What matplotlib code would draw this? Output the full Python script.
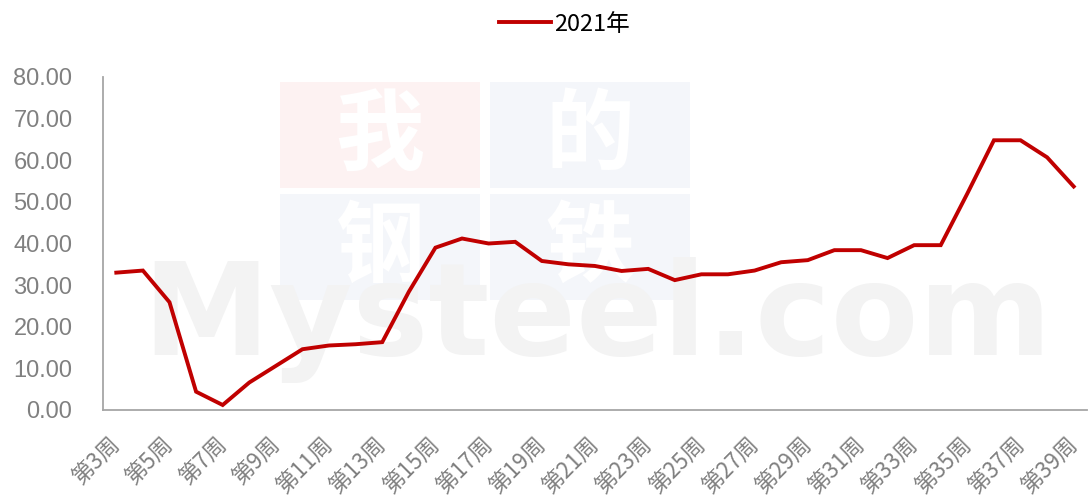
import matplotlib.pyplot as plt
from matplotlib.patches import Rectangle

plt.rcParams['font.family'] = ['Noto Sans CJK SC', 'DejaVu Sans']

# ---- data ----
weeks = list(range(3, 40))
labels = [f"第{w}周" for w in weeks]
values = [33.0, 33.5, 25.9, 4.4, 1.2, 6.6, 10.6, 14.6, 15.5, 15.8,
          16.3, 28.4, 39.0, 41.2, 40.0, 40.4, 35.8, 35.0, 34.6, 33.4,
          33.9, 31.2, 32.6, 32.6, 33.5, 35.5, 36.0, 38.4, 38.4, 36.5,
          39.6, 39.6, 52.0, 64.8, 64.8, 60.7, 53.7]
series_name = "2021年"

W, H = 1088, 503
fig = plt.figure(figsize=(W / 100, H / 100), dpi=100)
ax = fig.add_axes([103 / W, 93 / H, 984 / W, 333 / H])
ax.set_zorder(2)
ax.patch.set_alpha(0)

# ---- watermark (drawn behind the axes) ----
boxes = [(280, 82, "#fdf2f2", "我"), (490, 82, "#f4f6fa", "的"),
         (280, 194, "#f4f6fa", "钢"), (490, 194, "#f4f6fa", "铁")]
for bx, by, col, ch in boxes:
    fig.patches.append(Rectangle((bx / W, 1 - (by + 106) / H), 200 / W, 106 / H,
                                 transform=fig.transFigure, facecolor=col,
                                 edgecolor="none", zorder=0))
    fig.text((bx + 100) / W, 1 - (by + 55) / H, ch, color="white", fontsize=64,
             fontweight="bold", ha="center", va="center", zorder=0.5)
fig.text(142 / W, 1 - 355 / H, "Mysteel.com", color="#f3f3f3", fontsize=92,
         fontweight="bold", family="DejaVu Sans", ha="left", va="baseline",
         zorder=0.5)

# ---- line ----
x = list(range(len(values)))
ax.plot(x, values, color="#c00000", linewidth=2.8, label=series_name,
        solid_joinstyle="miter", zorder=3)

ax.set_xlim(-0.5, len(values) - 0.5)
ax.set_ylim(0, 80)
ax.set_yticks(range(0, 81, 10))
ax.set_yticklabels([f"{v:.2f}" for v in range(0, 81, 10)],
                   family="Liberation Sans", fontsize=17, color="#808080")
ax.set_xticks(x[::2])
ax.set_xticklabels(labels[::2], rotation=45, ha="right", va="center",
                   rotation_mode="anchor", fontsize=16, color="#808080")
ax.tick_params(axis="y", length=0, pad=22)
ax.tick_params(axis="x", length=0, pad=22)

for s in ["top", "right"]:
    ax.spines[s].set_visible(False)
for s in ["left", "bottom"]:
    ax.spines[s].set_color("#a6a6a6")
    ax.spines[s].set_linewidth(1.3)

fig.legend(loc="center", bbox_to_anchor=(0.519, 0.952), frameon=False,
           fontsize=17, handlelength=2.2, handletextpad=0.15)

fig.savefig("out.png", dpi=100)
